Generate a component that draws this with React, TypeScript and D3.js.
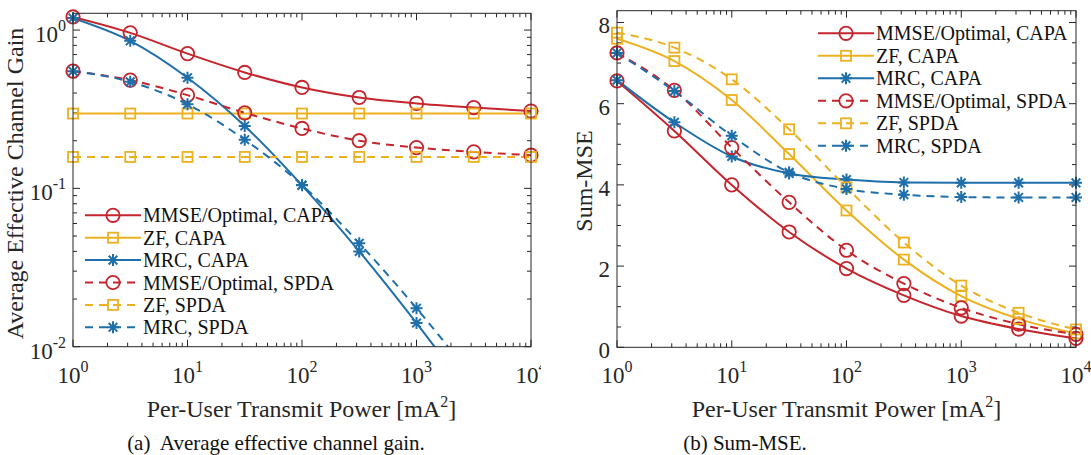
import * as d3 from "d3";

// per-user transmit power [mA^2], markers every half decade
const powers = [1, 3.162, 10, 31.62, 100, 316.2, 1000, 3162, 10000];
const seriesNames = [
  "MMSE/Optimal, CAPA",
  "ZF, CAPA",
  "MRC, CAPA",
  "MMSE/Optimal, SPDA",
  "ZF, SPDA",
  "MRC, SPDA",
];

// (a) average effective channel gain
const gainMmseCapa = [1.21, 0.96, 0.71, 0.54, 0.434, 0.375, 0.344, 0.324, 0.308];
const gainZfCapa = [0.297, 0.297, 0.297, 0.297, 0.297, 0.297, 0.297, 0.297, 0.297];
const gainMrcCapa = [1.19, 0.855, 0.5, 0.248, 0.1045, 0.04, 0.0141, 0.0047, 0.0016];
const gainMmseSpda = [0.55, 0.483, 0.388, 0.3, 0.239, 0.2, 0.181, 0.17, 0.162];
const gainZfSpda = [0.158, 0.158, 0.158, 0.158, 0.158, 0.158, 0.158, 0.158, 0.158];
const gainMrcSpda = [0.55, 0.471, 0.34, 0.203, 0.105, 0.045, 0.0175, 0.0063, 0.0023];

// (b) sum-MSE
const mseMmseCapa = [6.56, 5.33, 4.0, 2.84, 1.94, 1.28, 0.77, 0.45, 0.22];
const mseZfCapa = [7.6, 7.05, 6.09, 4.76, 3.37, 2.16, 1.26, 0.7, 0.34];
const mseMrcCapa = [6.58, 5.54, 4.7, 4.28, 4.13, 4.06, 4.05, 4.05, 4.05];
const mseMmseSpda = [7.25, 6.33, 4.92, 3.57, 2.39, 1.57, 0.97, 0.57, 0.32];
const mseZfSpda = [7.75, 7.38, 6.6, 5.37, 3.94, 2.58, 1.52, 0.85, 0.44];
const mseMrcSpda = [7.25, 6.31, 5.21, 4.31, 3.9, 3.76, 3.7, 3.69, 3.69];

const xTicks = [1, 10, 100, 1000, 10000];
const gainTicks = [0.01, 0.1, 1];
const mseTicks = [0, 2, 4, 6, 8];

const FONT = '"Liberation Serif", "Times New Roman", Times, serif';
const AX = "#262626";
const RED = "#c5252c";
const YELLOW = "#edb120";
const BLUE = "#1f6fab";
const looks = [
  { color: RED, marker: "o", dash: null },
  { color: YELLOW, marker: "s", dash: null },
  { color: BLUE, marker: "*", dash: null },
  { color: RED, marker: "o", dash: "8,6" },
  { color: YELLOW, marker: "s", dash: "8,6" },
  { color: BLUE, marker: "*", dash: "8,6" },
];

function Marker({ type, x, y, color }) {
  if (type === "o")
    return <circle cx={x} cy={y} r={6.7} fill="none" stroke={color} strokeWidth={1.8} />;
  if (type === "s")
    return <rect x={x - 5} y={y - 5} width={10} height={10} fill="none" stroke={color} strokeWidth={1.8} />;
  const r = 6, d = r * 0.72;
  return (
    <path
      d={`M${x - r},${y}H${x + r}M${x},${y - r}V${y + r}M${x - d},${y - d}L${x + d},${y + d}M${x - d},${y + d}L${x + d},${y - d}`}
      stroke={color}
      strokeWidth={2}
      fill="none"
    />
  );
}

function Pow({ x, y, anchor, e }) {
  return (
    <text x={x} y={y} textAnchor={anchor} fontSize={23} fill={AX}>
      10<tspan dy={-11} fontSize={16}>{e}</tspan>
    </text>
  );
}

function Panel({ id, box, y, yLog, yTicks, yMinor, values, legend, xLabelX, yLabel, yLabelPos }) {
  const x = d3.scaleLog().domain([1, 1e4]).range([box.l, box.r]);
  const line = d3
    .line()
    .x((d) => x(d[0]))
    .y((d) => y(d[1]))
    .curve(d3.curveMonotoneX);
  const xMinor = [];
  for (let k = 0; k < 4; k++) for (let m = 2; m < 10; m++) xMinor.push(m * 10 ** k);

  const tick = (key, x1, y1, x2, y2) => (
    <line key={key} x1={x1} y1={y1} x2={x2} y2={y2} stroke={AX} strokeWidth={1} />
  );

  return (
    <g style={{ fontFamily: FONT }}>
      <clipPath id={id}>
        <rect x={box.l} y={box.t} width={box.r - box.l} height={box.b - box.t} />
      </clipPath>

      {/* ticks */}
      {xTicks.map((t, i) => (
        <g key={"xt" + i}>
          {tick("a", x(t), box.b, x(t), box.b - 7)}
          {tick("b", x(t), box.t, x(t), box.t + 7)}
          <Pow x={x(t)} y={383} anchor="middle" e={Math.round(Math.log10(t))} />
        </g>
      ))}
      {xMinor.map((t, i) => (
        <g key={"xm" + i}>
          {tick("a", x(t), box.b, x(t), box.b - 4)}
          {tick("b", x(t), box.t, x(t), box.t + 4)}
        </g>
      ))}
      {yTicks.map((t, i) => (
        <g key={"yt" + i}>
          {tick("a", box.l, y(t), box.l + 7, y(t))}
          {tick("b", box.r, y(t), box.r - 7, y(t))}
          {yLog ? (
            <Pow x={box.l - 7} y={y(t) + 12} anchor="end" e={Math.round(Math.log10(t))} />
          ) : (
            <text x={box.l - 7} y={y(t) + 11} textAnchor="end" fontSize={23} fill={AX}>
              {t}
            </text>
          )}
        </g>
      ))}
      {yMinor.map((t, i) => (
        <g key={"ym" + i}>
          {tick("a", box.l, y(t), box.l + 4, y(t))}
          {tick("b", box.r, y(t), box.r - 4, y(t))}
        </g>
      ))}

      {/* curves */}
      <g clipPath={`url(#${id})`}>
        {values.map((vals, i) => (
          <path
            key={i}
            d={line(powers.map((p, j) => [p, vals[j]]))}
            fill="none"
            stroke={looks[i].color}
            strokeWidth={2}
            strokeDasharray={looks[i].dash || undefined}
          />
        ))}
      </g>
      {values.map((vals, i) => (
        <g key={"m" + i}>
          {powers.map((p, j) => {
            const py = y(vals[j]);
            if (py > box.b + 0.5 || py < box.t - 0.5) return null;
            return <Marker key={j} type={looks[i].marker} x={x(p)} y={py} color={looks[i].color} />;
          })}
        </g>
      ))}

      <rect x={box.l} y={box.t} width={box.r - box.l} height={box.b - box.t} fill="none" stroke={AX} strokeWidth={1} />

      {/* legend */}
      {seriesNames.map((name, i) => {
        const cy = legend.y + i * legend.step;
        return (
          <g key={"lg" + i}>
            <line
              x1={legend.x}
              x2={legend.x + 56}
              y1={cy}
              y2={cy}
              stroke={looks[i].color}
              strokeWidth={2}
              strokeDasharray={looks[i].dash || undefined}
            />
            <Marker type={looks[i].marker} x={legend.x + 28} y={cy} color={looks[i].color} />
            <text x={legend.x + 58} y={cy + 7} fontSize={20} fill="#111">
              {name}
            </text>
          </g>
        );
      })}

      <text x={xLabelX} y={416.5} textAnchor="middle" fontSize={24} fill={AX}>
        Per-User Transmit Power [mA<tspan dy={-10} fontSize={16}>2</tspan>
        <tspan dy={10}>]</tspan>
      </text>
      <text
        transform={`translate(${yLabelPos[0]},${yLabelPos[1]}) rotate(-90)`}
        textAnchor="middle"
        fontSize={24}
        fill={AX}
      >
        {yLabel}
      </text>
    </g>
  );
}

export default function App() {
  const leftBox = { l: 73, r: 531, t: 13.3, b: 346.7 };
  const rightBox = { l: 617, r: 1076, t: 10.7, b: 347.3 };
  const yGain = d3.scaleLog().domain([0.01, 1.276]).range([leftBox.b, leftBox.t]);
  const yMse = d3.scaleLinear().domain([0, 8.29]).range([rightBox.b, rightBox.t]);

  const gainMinor = [];
  for (const k of [0.01, 0.1]) for (let m = 2; m < 10; m++) gainMinor.push(m * k);
  const mseMinor = d3.range(0.5, 8.01, 0.5).filter((v) => v % 2 !== 0);

  return (
    <svg
      width={1091}
      height={455}
      style={{ position: "absolute", left: 0, top: 0, background: "#fff" }}
    >
      <clipPath id="leftHalf">
        <rect x={0} y={0} width={541} height={455} />
      </clipPath>
      <g clipPath="url(#leftHalf)">
        <Panel
          id="clipA"
          box={leftBox}
          y={yGain}
          yLog={true}
          yTicks={gainTicks}
          yMinor={gainMinor}
          values={[gainMmseCapa, gainZfCapa, gainMrcCapa, gainMmseSpda, gainZfSpda, gainMrcSpda]}
          legend={{ x: 85, y: 215.3, step: 22.4 }}
          xLabelX={301.5}
          yLabel="Average Effective Channel Gain"
          yLabelPos={[23, 183.5]}
        />
      </g>
      <Panel
        id="clipB"
        box={rightBox}
        y={yMse}
        yLog={false}
        yTicks={mseTicks}
        yMinor={mseMinor}
        values={[mseMmseCapa, mseZfCapa, mseMrcCapa, mseMmseSpda, mseZfSpda, mseMrcSpda]}
        legend={{ x: 818, y: 33.3, step: 22.5 }}
        xLabelX={846.5}
        yLabel="Sum-MSE"
        yLabelPos={[592, 181]}
      />
      <g style={{ fontFamily: FONT }} fontSize={21} fill="#111">
        <text x={276} y={450} textAnchor="middle" style={{ whiteSpace: "pre" }}>
          {"(a)  Average effective channel gain."}
        </text>
        <text x={745} y={450} textAnchor="middle">
          (b) Sum-MSE.
        </text>
      </g>
    </svg>
  );
}
